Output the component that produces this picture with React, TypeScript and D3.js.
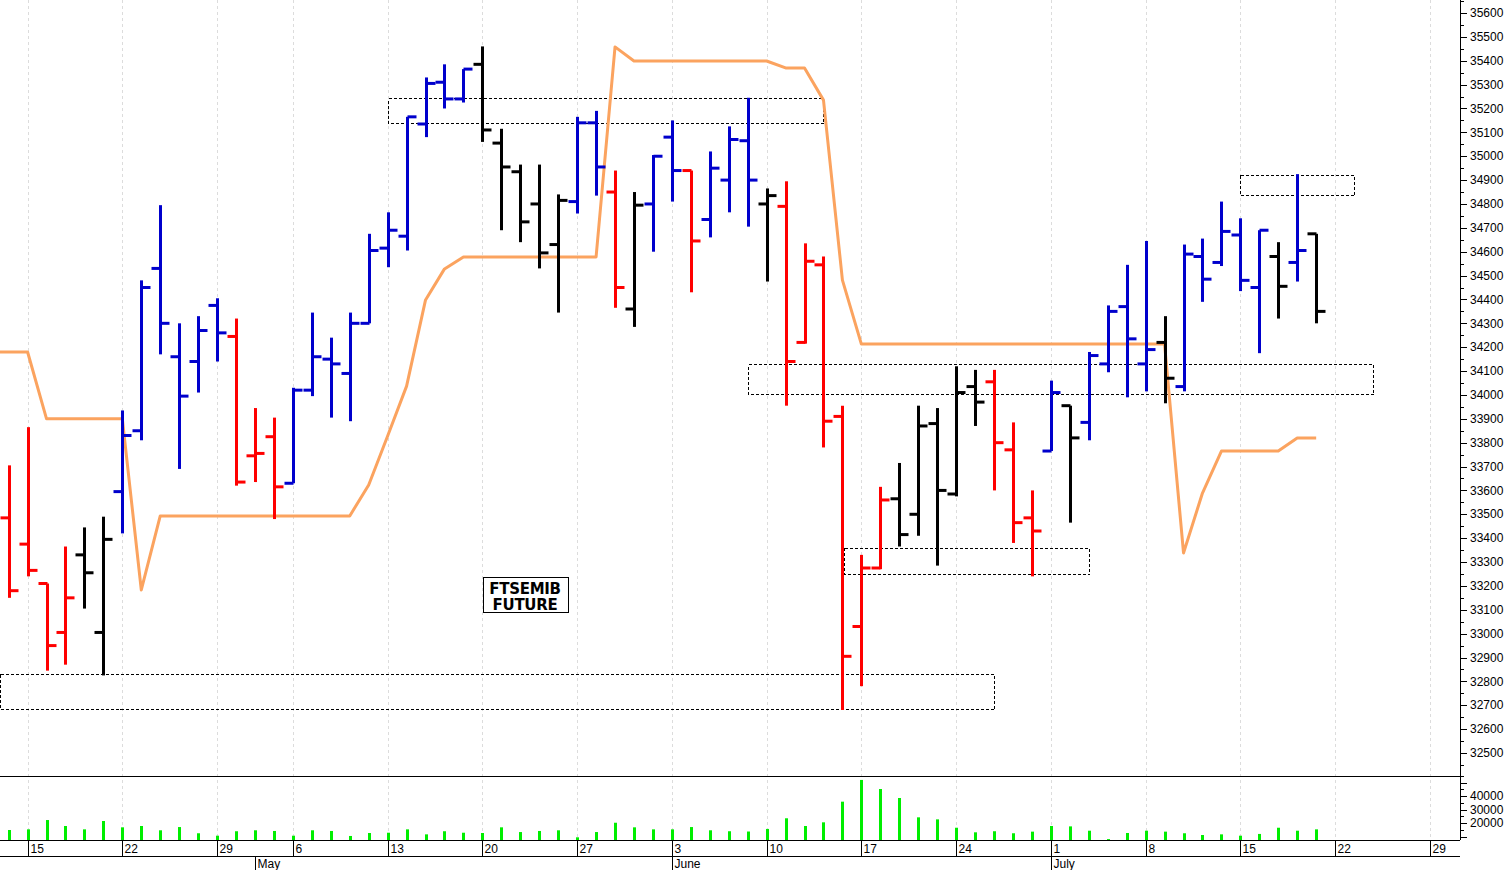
import React from 'react';
import * as d3 from 'd3';

const W = 1508;
const H = 870;

// Daily OHLC of the FTSEMIB future, 12 Apr 2024 .. 19 Jul 2024 (trading days)
const opens = [33485,33375,33210,33005,33330,33005,33595,33850,34530,34160,34140,34375,34245,33745,33825,33630,34020,34150,34090,34300,34615,34665,35135,35310,35240,35385,35055,34935,34800,34630,34810,35140,34850,34360,34800,35080,34940,34735,34900,35065,34800,34790,34220,34545,33910,33030,33275,33565,33500,33880,33585,34035,34055,33770,33485,33765,33955,33885,34130,34370,34130,34220,34035,34580,34555,34670,34450,34580,34555,34675];
const highs = [33705,33865,33210,33365,33445,33490,33935,34480,34795,34300,34330,34405,34320,33945,33905,34030,34345,34240,34345,34675,34765,35165,35330,35385,35365,35460,35115,34965,34965,34840,35165,35190,34940,34850,35005,35150,34940,35020,35125,35245,34865,34895,34635,34580,33955,33330,33615,33715,33955,33945,34120,34105,34105,33885,33600,34060,33955,34180,34375,34545,34645,34330,34630,34655,34810,34740,34690,34640,34925,34675];
const lows = [33150,33240,32845,32870,33105,32825,33420,33810,34170,33690,34010,34140,33620,33635,33480,33630,33995,33905,33890,34300,34535,34605,35080,35200,35225,35060,34690,34640,34530,34345,34760,34835,34365,34285,34600,34810,34430,34660,34765,34705,34475,33955,34215,33780,32680,32780,33270,33365,33410,33285,33575,33870,33600,33380,33240,33765,33465,33810,34095,33990,34015,33965,34015,34390,34540,34435,34175,34320,34475,34300];
const closes = [33180,33265,32950,33150,33255,33395,33830,34450,34300,33995,34270,34260,33635,33755,33615,34020,34160,34130,34300,34605,34690,35165,35305,35240,35365,35110,34955,34725,34595,34815,35140,34955,34450,34795,35000,34940,34645,34950,35070,34900,34835,34140,34560,33890,32905,33275,33560,33415,33870,33600,34010,33970,33800,33465,33430,34010,33820,34165,34350,34235,34190,34070,34590,34485,34685,34480,34690,34455,34605,34350];
// bar colouring from the source chart: r = red, b = blue, k = black
const barTrend = 'rrrrkkbbbbbbrrrbbbbbbbbbbkkkkkbbrkbbrbbbkrrrrrrkkkkkrrrbkbbbbkbbbbbkbk'.split('');
const volumes = [14800,15300,22200,17800,15300,21500,16800,17800,14600,17000,12400,10600,13900,14600,14100,10600,14600,14100,10400,12600,12800,15300,11600,13900,12800,12600,16800,13300,14100,14600,9400,13300,20200,16800,15300,15300,17000,14600,13900,13700,15600,23500,17800,20500,35800,51900,45200,38500,24200,22700,16500,13100,13900,12400,13600,17800,17500,14300,8100,12600,14300,13600,12400,11100,11600,10600,11900,16500,14300,15300];
// orange stop line, starting one day before the first bar (index -1)
const stopLineStart = -1;
const stopLine = [34180,34180,34180,33900,33900,33900,33900,33900,33183,33493,33493,33493,33493,33493,33493,33493,33493,33493,33493,33493,33623,33828,34037,34398,34528,34578,34578,34578,34578,34578,34578,34578,34578,35458,35399,35399,35399,35399,35399,35399,35399,35399,35370,35370,35235,34481,34213,34213,34213,34213,34213,34213,34213,34213,34213,34213,34213,34213,34213,34213,34213,34213,34213,33338,33589,33765,33765,33765,33765,33820,33820];

// weekly ticks (Mondays) by trading-day index
const weekTickIdx = [1,6,11,15,20,25,30,35,40,45,50,55,60,65,70,75];
const weekTickLabels = ['15','22','29','6','13','20','27','3','10','17','24','1','8','15','22','29'];
const monthTickIdx = [13,35,55];
const monthTickLabels = ['May','June','July'];

// support / resistance zones: [startIdx, endIdx, low, high]
const zonesStart = [20, -1, 39, 44.1, 65];
const zonesEnd = [43, 52, 72, 57, 71];
const zonesLow = [35139, 32684, 34004, 33250, 34838];
const zonesHigh = [35244, 32831, 34130, 33359, 34921];

const titleLines = ['FTSEMIB', 'FUTURE'];

const priceTicks = d3.range(32500, 35601, 100);
const priceMinorTicks = d3.range(32450, 35651, 100);
const volTicks = [10000, 20000, 30000, 40000, 50000];
const volLabels = [20000, 30000, 40000];
const volMinorTicks = d3.range(10000, 55001, 5000);

const COLORS: Record<string, string> = { r: '#ff0000', b: '#0000cc', k: '#000000' };
const FONT = '"Liberation Sans", Arial, sans-serif';

const px = (v: number) => Math.round(v) + 0.5;

export default function App() {
  const plotRight = 1460;
  const priceBottom = 776;
  const volBottom = 840;
  const dateBottom = 856;

  const x = d3.scaleLinear().domain([-0.456, 76.59]).range([0, plotRight]);
  const y = d3.scaleLinear().domain([32500, 35600]).range([753, 13]);
  const yv = d3.scaleLinear().domain([20000, 40000]).range([823, 796]);

  const stopPts: [number, number][] = stopLine.map((v, k) => [x(k + stopLineStart), y(v)]);
  const stopPath = d3.line()(stopPts) || '';

  const tickLen = 9;

  return (
    <svg width={W} height={H} style={{ position: 'absolute', left: 0, top: 0, background: '#fff' }} fontFamily={FONT}>
      <defs>
        <clipPath id="pricePane">
          <rect x={0} y={0} width={plotRight} height={priceBottom} />
        </clipPath>
      </defs>
      <rect x={0} y={0} width={W} height={H} fill="#fff" />

      {/* weekly dashed gridlines */}
      {weekTickIdx.map((d, k) => (
        <line key={'g' + k} x1={px(x(d))} x2={px(x(d))} y1={0} y2={volBottom} stroke="#dcdcdc" strokeDasharray="3,3" strokeWidth={1} shapeRendering="crispEdges" />
      ))}

      <g clipPath="url(#pricePane)">
        {/* zones */}
        {zonesStart.map((s, k) => {
          const x0 = px(Math.max(0, x(s)));
          const x1 = px(x(zonesEnd[k]));
          const y0 = px(y(zonesHigh[k]));
          const y1 = px(y(zonesLow[k]));
          return (
            <rect key={'z' + k} x={x0} y={y0} width={x1 - x0} height={y1 - y0} fill="none" stroke="#000" strokeWidth={1} strokeDasharray="3,2" shapeRendering="crispEdges" />
          );
        })}

        {/* stop line */}
        <path d={stopPath} fill="none" stroke="#fba35f" strokeWidth={3} strokeLinejoin="round" />

        {/* OHLC bars */}
        {opens.map((o, i) => {
          const cx = Math.round(x(i)) + 0.5;
          const c = COLORS[barTrend[i]];
          return (
            <g key={'b' + i} stroke={c} strokeWidth={3}>
              <line x1={cx} x2={cx} y1={y(highs[i])} y2={y(lows[i])} />
              <line x1={cx - tickLen} x2={cx} y1={y(o)} y2={y(o)} />
              <line x1={cx} x2={cx + tickLen} y1={y(closes[i])} y2={y(closes[i])} />
            </g>
          );
        })}
      </g>

      {/* title box */}
      <g>
        <rect x={483.5} y={577.5} width={85} height={35} fill="#fff" stroke="#000" strokeWidth={1} shapeRendering="crispEdges" />
        {titleLines.map((t, k) => (
          <text key={'t' + k} x={525} y={594 + k * 16} textAnchor="middle" fontFamily='"DejaVu Sans", Verdana, sans-serif' fontWeight="bold" fontSize={15} letterSpacing={-0.3} fill="#000">{t}</text>
        ))}
      </g>

      {/* volume bars */}
      {volumes.map((v, i) => {
        const cx = Math.round(x(i)) + 0.5;
        const top = Math.min(volBottom, yv(v));
        return <line key={'v' + i} x1={cx} x2={cx} y1={volBottom} y2={top} stroke="#00ee00" strokeWidth={3} />;
      })}

      {/* frame lines */}
      <g shapeRendering="crispEdges">
        <line x1={0} x2={plotRight} y1={priceBottom + 0.5} y2={priceBottom + 0.5} stroke="#000" />
        <line x1={0} x2={plotRight} y1={volBottom + 0.5} y2={volBottom + 0.5} stroke="#000" />
        <line x1={0} x2={plotRight} y1={dateBottom + 0.5} y2={dateBottom + 0.5} stroke="#000" />
        <line x1={plotRight + 0.5} x2={plotRight + 0.5} y1={0} y2={volBottom} stroke="#000" />

        {/* price axis */}
        {priceMinorTicks.map((t) => (
          <line key={'pm' + t} x1={plotRight} x2={plotRight + 4} y1={px(y(t))} y2={px(y(t))} stroke="#000" />
        ))}
        {priceTicks.map((t) => (
          <line key={'pt' + t} x1={plotRight} x2={plotRight + 7} y1={px(y(t))} y2={px(y(t))} stroke="#000" />
        ))}

        {/* volume axis */}
        {volMinorTicks.map((t) => (
          <line key={'vm' + t} x1={plotRight} x2={plotRight + 4} y1={px(yv(t))} y2={px(yv(t))} stroke="#000" />
        ))}
        {volTicks.map((t) => (
          <line key={'vt' + t} x1={plotRight} x2={plotRight + 7} y1={px(yv(t))} y2={px(yv(t))} stroke="#000" />
        ))}

        {weekTickIdx.map((d, k) => (
          <line key={'wt' + k} x1={px(x(d))} x2={px(x(d))} y1={volBottom} y2={dateBottom} stroke="#000" />
        ))}
        {monthTickIdx.map((d, k) => (
          <line key={'mt' + k} x1={px(x(d))} x2={px(x(d))} y1={dateBottom} y2={H} stroke="#000" />
        ))}
      </g>

      {priceTicks.map((t) => (
        <text key={'pl' + t} x={plotRight + 10} y={y(t)} dy="0.35em" fontSize={12} fill="#000">{t}</text>
      ))}
      {volLabels.map((t) => (
        <text key={'vl' + t} x={plotRight + 10} y={yv(t)} dy="0.35em" fontSize={12} fill="#000">{t}</text>
      ))}
      {weekTickIdx.map((d, k) => (
        <text key={'wl' + k} x={px(x(d)) + 2} y={volBottom + 13} fontSize={12} fill="#000">{weekTickLabels[k]}</text>
      ))}
      {monthTickIdx.map((d, k) => (
        <text key={'ml' + k} x={px(x(d)) + 2} y={dateBottom + 12} fontSize={12} fill="#000">{monthTickLabels[k]}</text>
      ))}
    </svg>
  );
}
